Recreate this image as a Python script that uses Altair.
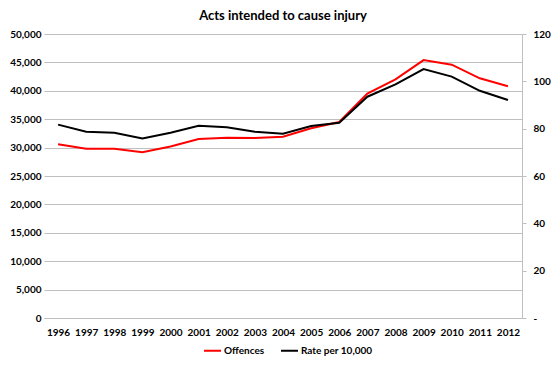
import altair as alt
import pandas as pd

years = [str(y) for y in range(1996, 2013)]
offences = [30600, 29800, 29800, 29200, 30200, 31500, 31750, 31700, 31900, 33400,
            34500, 39500, 42000, 45400, 44600, 42200, 40800]
rate = [81.7, 78.7, 78.3, 75.9, 78.3, 81.2, 80.6, 78.7, 77.9, 81.1,
        82.5, 93.5, 98.7, 105.2, 102.0, 96.0, 92.1]
series = ["Offences", "Rate per 10,000"]
colors = ["#ff0000", "#000000"]
left_ticks = list(range(0, 50001, 5000))
right_ticks = list(range(0, 121, 20))

df = pd.DataFrame({"year": years, "offences": offences, "rate": rate})

FONT = "Lato"
GRID = "#bfbfbf"

x = alt.X("year:O", title=None, scale=alt.Scale(padding=0.5),
          axis=alt.Axis(labelAngle=0, ticks=False, domainColor=GRID, labelPadding=9))
color_scale = alt.Scale(domain=series, range=colors)
legend = alt.Legend(title=None, orient="none", legendX=159, legendY=307,
                    direction="horizontal", symbolType="stroke",
                    symbolStrokeWidth=2, symbolSize=289, labelFont=FONT, labelFontWeight="bold",
                    labelFontSize=10, labelColor="black", columnPadding=12, labelOffset=2)

base = alt.Chart(df)
left = base.transform_calculate(s="'Offences'").mark_line(strokeWidth=2).encode(
    x=x,
    y=alt.Y("offences:Q", title=None, scale=alt.Scale(domain=[0, 50000]),
            axis=alt.Axis(values=left_ticks, grid=True, domain=False, ticks=False,
                          labelPadding=3,
                          labelExpr="format(datum.value, ',.0f')")),
    color=alt.Color("s:N", scale=color_scale, legend=legend),
)
right = base.transform_calculate(s="'Rate per 10,000'").mark_line(strokeWidth=2).encode(
    x=x,
    y=alt.Y("rate:Q", title=None, scale=alt.Scale(domain=[0, 120]),
            axis=alt.Axis(orient="right", values=right_ticks, grid=False, domain=True,
                          domainColor=GRID, ticks=True, tickColor=GRID, tickSize=4,
                          labelPadding=7,
                          labelExpr="datum.value == 0 ? '-' : format(datum.value, 'd')")),
    color=alt.Color("s:N", scale=color_scale, legend=legend),
)

chart = alt.layer(left, right).resolve_scale(y="independent").properties(
    width=478, height=284,
    autosize=alt.AutoSizeParams(type="none"),
    padding={"left": 36, "top": 26, "right": 30, "bottom": 40},
    title=alt.TitleParams("Acts intended to cause injury", font=FONT, fontSize=13,
                          fontWeight="bold", color="black", offset=6, anchor="middle"),
).configure_view(stroke=None).configure_axis(
    labelFont=FONT, labelFontWeight="bold", labelFontSize=10, labelColor="black",
    gridColor=GRID,
)

chart.save("out.html", embed_options={"renderer": "svg", "actions": False})
